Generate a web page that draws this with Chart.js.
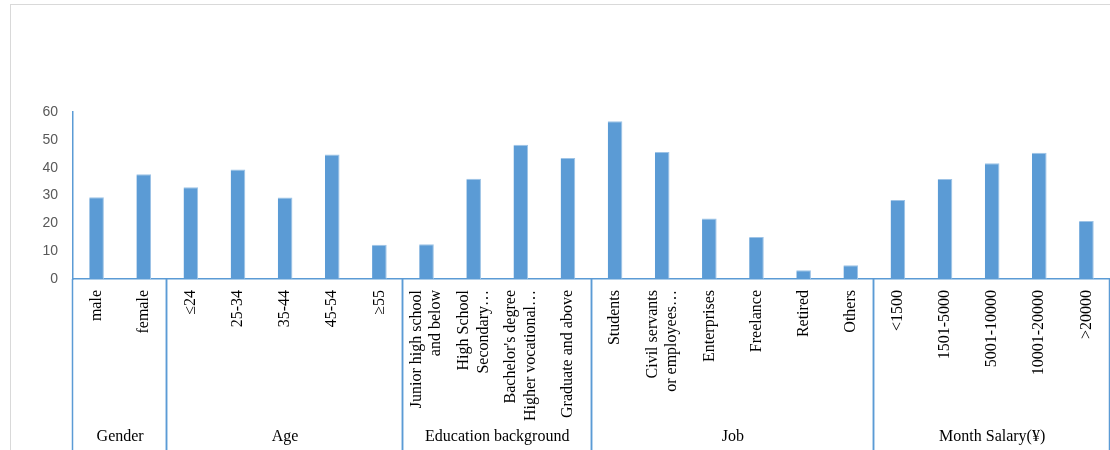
<!DOCTYPE html>
<html lang="en">
<head>
<meta charset="UTF-8">
<title>Survey respondents</title>
<script src="https://cdn.jsdelivr.net/npm/chart.js@4.4.1/dist/chart.umd.min.js"></script>
<style>
  body { margin: 0; background: #fff; }
  #wrap { position: relative; width: 1110px; height: 450px; overflow: hidden; }
  #frame { position: absolute; left: 10px; top: 4px; width: 1200px; height: 600px; border: 1px solid #d9d9d9; }
  #myChart { position: absolute; left: 0; top: 0; }
</style>
</head>
<body>
<div id="wrap">
  <div id="frame"></div>
  <canvas id="myChart" width="1110" height="450"></canvas>
</div>
<script>
// data
const groups = ['Gender', 'Age', 'Education background', 'Job', 'Month Salary(¥)'];
const groupSizes = [2, 5, 4, 6, 5];
const categories = [
  ['male'], ['female'],
  ['≤24'], ['25-34'], ['35-44'], ['45-54'], ['≥55'],
  ['Junior high school', 'and below'], ['High School', 'Secondary…'],
  ["Bachelor's degree", 'Higher vocational…'], ['Graduate and above'],
  ['Students'], ['Civil servants', 'or employees…'], ['Enterprises'],
  ['Freelance'], ['Retired'], ['Others'],
  ['<1500'], ['1501-5000'], ['5001-10000'], ['10001-20000'], ['>20000']
];
const values = [29.4, 37.6, 33.0, 39.3, 29.3, 44.7, 12.3, 12.5, 36.0, 48.2, 43.5,
                56.7, 45.6, 21.7, 15.1, 3.1, 4.9, 28.4, 35.9, 41.6, 45.4, 20.8];
const yTicks = [0, 10, 20, 30, 40, 50, 60];

const axisBlue = '#5b9bd5';
const serif = '"Liberation Serif", "Times New Roman", serif';

// category labels, group separators and group names under the x axis
const groupAxis = {
  id: 'groupAxis',
  afterDraw(chart) {
    const ctx = chart.ctx;
    const x = chart.scales.x;
    const top = x.top;
    const bottom = chart.height;
    ctx.save();
    ctx.fillStyle = '#000';
    ctx.font = '16px ' + serif;

    // rotated category labels
    categories.forEach((lines, i) => {
      const px = x.getPixelForValue(i);
      ctx.save();
      ctx.translate(px, top + 11);
      ctx.rotate(-Math.PI / 2);
      ctx.textAlign = 'right';
      ctx.textBaseline = 'middle';
      lines.forEach((t, j) => {
        ctx.fillText(t, 0, (j - (lines.length - 1) / 2) * 19.5);
      });
      ctx.restore();
    });

    // separators + group names
    const edge = (i) => {
      if (i <= 0) return x.left;
      if (i >= categories.length) return x.right;
      return (x.getPixelForValue(i - 1) + x.getPixelForValue(i)) / 2;
    };
    ctx.strokeStyle = axisBlue;
    ctx.lineWidth = 1.5;
    ctx.textAlign = 'center';
    ctx.textBaseline = 'middle';
    let start = 0;
    groupSizes.forEach((n, g) => {
      const a = edge(start), b = edge(start + n);
      [a, b].forEach(px => {
        ctx.beginPath();
        ctx.moveTo(Math.round(px) - 0.5, top);
        ctx.lineTo(Math.round(px) - 0.5, bottom);
        ctx.stroke();
      });
      ctx.fillText(groups[g], (a + b) / 2, 437);
      start += n;
    });
    ctx.restore();
  }
};

const ctx = document.getElementById('myChart').getContext('2d');
new Chart(ctx, {
  type: 'bar',
  data: {
    labels: categories.map(l => l.join(' ')),
    datasets: [{
      data: values,
      backgroundColor: axisBlue,
      borderColor: '#9dc3e6',
      borderWidth: { top: 1, right: 1, left: 0, bottom: 0 },
      categoryPercentage: 1,
      barPercentage: 0.31
    }]
  },
  options: {
    responsive: false,
    animation: false,
    layout: { padding: { top: 112, left: 0, right: 0, bottom: 0 } },
    plugins: { legend: { display: false }, tooltip: { enabled: false } },
    scales: {
      x: {
        grid: { display: false, drawTicks: false },
        border: { display: true, color: axisBlue, width: 1.5 },
        ticks: { display: false },
        afterFit(scale) { scale.height = 171; }
      },
      y: {
        min: 0,
        max: 60,
        grid: { display: false, drawTicks: false },
        border: { display: true, color: axisBlue, width: 1.5 },
        afterFit(scale) { scale.width = 73; },
        afterBuildTicks(scale) { scale.ticks = yTicks.map(v => ({ value: v })); },
        ticks: {
          padding: 15,
          color: '#595959',
          font: { family: '"Liberation Sans", Arial, sans-serif', size: 14 }
        }
      }
    }
  },
  plugins: [groupAxis]
});
</script>
</body>
</html>
